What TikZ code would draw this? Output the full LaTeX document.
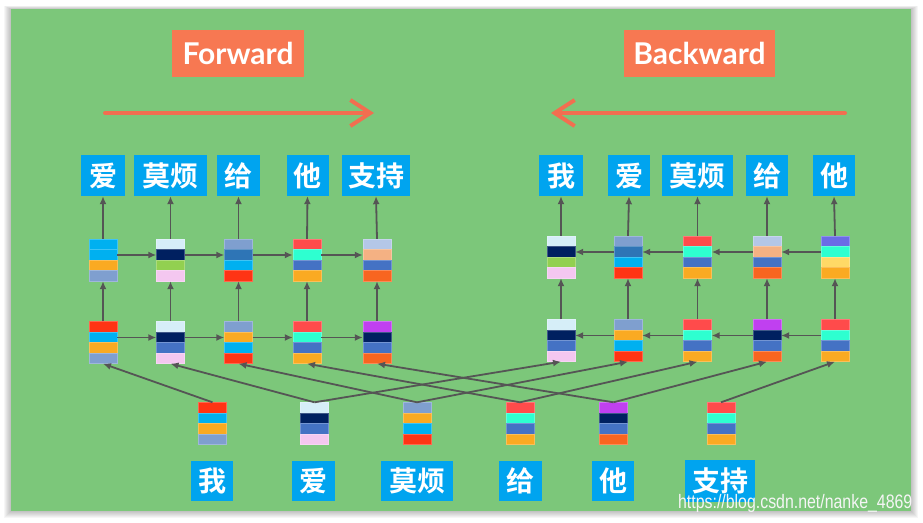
\documentclass[tikz,border=0pt]{standalone}
\usepackage{fontspec}
\setmainfont{Lato}
\newfontfamily\cjk{Noto Sans CJK SC Bold}
\newfontfamily\wmfont{Liberation Sans}[FakeStretch=0.815]
\usetikzlibrary{arrows.meta}

\definecolor{panel}{RGB}{124,199,122}
\definecolor{wordblue}{RGB}{0,164,239}
\definecolor{tagorange}{RGB}{247,120,82}
\definecolor{flow}{RGB}{242,110,80}
\definecolor{link}{RGB}{85,85,85}
% cell colours
\definecolor{cyan}{RGB}{0,176,240}
\definecolor{amber}{RGB}{250,170,34}
\definecolor{steel}{RGB}{127,159,207}
\definecolor{ice}{RGB}{214,238,248}
\definecolor{navy}{RGB}{0,32,96}
\definecolor{lime}{RGB}{146,208,80}
\definecolor{pink}{RGB}{244,199,240}
\definecolor{ocean}{RGB}{46,117,182}
\definecolor{scarlet}{RGB}{255,52,20}
\definecolor{coral}{RGB}{255,75,75}
\definecolor{aqua}{RGB}{46,255,208}
\definecolor{royal}{RGB}{68,114,196}
\definecolor{mist}{RGB}{180,199,231}
\definecolor{peach}{RGB}{244,177,131}
\definecolor{ember}{RGB}{248,101,32}
\definecolor{violet}{RGB}{192,64,240}
\definecolor{periw}{RGB}{107,107,230}
\definecolor{butter}{RGB}{255,217,102}

% a hidden-state vector: four stacked coloured cells, named #1, centred at (#2,#3)
\newcommand\cellstack[7]{%
  \node[stackbox] (#1) at (#2,#3) {};
  \foreach \col [count=\k from 0] in {#4,#5,#6,#7}{%
    \fill[\col, draw=\col!75!white, line width=0.5pt]
      (#2-14,#3-21+10.5*\k) rectangle ++(28,10.5);}%
}

\begin{document}
\begin{tikzpicture}[x=1pt,y=-1pt,
  stackbox/.style={minimum width=28pt, minimum height=42pt, inner sep=0pt, draw=none},
  word/.style={fill=wordblue, text=white, inner sep=0pt, minimum height=41pt,
    font=\cjk\fontsize{28}{28}\selectfont},
  tag/.style={fill=tagorange, text=white, inner sep=0pt, minimum height=47pt,
    font=\fontsize{30}{30}\selectfont\bfseries},
  arr/.style={draw=link, line width=1.8pt, -{Latex[length=8pt,width=7pt]}},
  flowarrow/.style={draw=flow, line width=4pt, line cap=round,
    -{Straight Barb[length=20pt,width=26pt,line width=4pt]}}]

% page and panel
\useasboundingbox (0,0) rectangle (923,522);
\fill[white] (0,0) rectangle (923,522);
\foreach \i in {1,...,7}{\fill[black, opacity=0.035] (11-\i,9-0.5*\i) rectangle (911+\i,511+\i);}
\fill[panel] (11,9) rectangle (911,511);

% direction labels
\node[tag, minimum width=132pt] (fwdtag) at (238,53.5) {Forward};
\node[tag, minimum width=151pt] (bwdtag) at (699.5,53.5) {Backward};
\coordinate (fwdA) at (105,113);
\coordinate (fwdB) at (374,113);
\coordinate (bwdA) at (845,113);
\coordinate (bwdB) at (551,113);
\draw[flowarrow] (fwdA) -- (fwdB);
\draw[flowarrow] (bwdA) -- (bwdB);

% forward output words
\node[word, minimum width=44pt] (wf1) at (103,175.5) {爱};
\node[word, minimum width=73pt] (wf2) at (170.5,175.5) {莫烦};
\node[word, minimum width=43pt] (wf3) at (238.5,175.5) {给};
\node[word, minimum width=42pt] (wf4) at (307.5,175.5) {他};
\node[word, minimum width=68pt] (wf5) at (376,175.5) {支持};
% backward output words
\node[word, minimum width=44pt] (wb1) at (561,175.5) {我};
\node[word, minimum width=42pt] (wb2) at (629,175.5) {爱};
\node[word, minimum width=71pt] (wb3) at (697.5,175.5) {莫烦};
\node[word, minimum width=42pt] (wb4) at (767,175.5) {给};
\node[word, minimum width=42pt] (wb5) at (834,175.5) {他};
% input words
\node[word, minimum width=42pt, minimum height=40pt] (ww1) at (212,481) {我};
\node[word, minimum width=43pt, minimum height=40pt] (ww2) at (313.5,481) {爱};
\node[word, minimum width=72pt, minimum height=40pt] (ww3) at (417,481) {莫烦};
\node[word, minimum width=43pt, minimum height=40pt] (ww4) at (520,481) {给};
\node[word, minimum width=42pt, minimum height=40pt] (ww5) at (613,481) {他};
\node[word, minimum width=70pt, minimum height=42pt] (ww6) at (720,481) {支持};

% forward upper layer
\cellstack{fu1}{103}{260}{cyan}{cyan}{amber}{steel}
\cellstack{fu2}{170.5}{260}{ice}{navy}{lime}{pink}
\cellstack{fu3}{238.5}{260}{steel}{ocean}{cyan}{scarlet}
\cellstack{fu4}{307}{260}{coral}{aqua}{royal}{amber}
\cellstack{fu5}{377}{260}{mist}{peach}{royal}{ember}
% forward lower layer
\cellstack{fl1}{103}{342.5}{scarlet}{cyan}{amber}{steel}
\cellstack{fl2}{170.5}{342.5}{ice}{navy}{royal}{pink}
\cellstack{fl3}{238.5}{342.5}{steel}{amber}{cyan}{scarlet}
\cellstack{fl4}{307}{342.5}{coral}{aqua}{royal}{amber}
\cellstack{fl5}{377}{342.5}{violet}{navy}{royal}{ember}
% backward upper layer
\cellstack{bu1}{561}{257}{ice}{navy}{lime}{pink}
\cellstack{bu2}{628}{257}{steel}{ocean}{cyan}{scarlet}
\cellstack{bu3}{697.5}{257}{coral}{aqua}{royal}{amber}
\cellstack{bu4}{767}{257}{mist}{peach}{royal}{ember}
\cellstack{bu5}{835}{257}{periw}{aqua}{butter}{amber}
% backward lower layer
\cellstack{bl1}{561}{340.5}{ice}{navy}{royal}{pink}
\cellstack{bl2}{628}{340.5}{steel}{amber}{cyan}{scarlet}
\cellstack{bl3}{697.5}{340.5}{coral}{aqua}{royal}{amber}
\cellstack{bl4}{767}{340.5}{violet}{navy}{royal}{ember}
\cellstack{bl5}{835}{340.5}{coral}{aqua}{royal}{amber}
% input embeddings
\cellstack{in1}{212.5}{423.5}{scarlet}{cyan}{amber}{steel}
\cellstack{in2}{314.5}{423.5}{ice}{navy}{royal}{pink}
\cellstack{in3}{417}{423.5}{steel}{amber}{cyan}{scarlet}
\cellstack{in4}{520}{423.5}{coral}{aqua}{royal}{amber}
\cellstack{in5}{613.5}{423.5}{violet}{navy}{royal}{ember}
\cellstack{in6}{721}{423.5}{coral}{aqua}{royal}{amber}

% recurrent links
\foreach \a/\b in {1/2,2/3,3/4,4/5}{
  \draw[arr] ([yshift=5pt]fu\a.east) -- ([yshift=5pt]fu\b.west);
  \draw[arr] ([yshift=5pt]fl\a.east) -- ([yshift=5pt]fl\b.west);
  \draw[arr] ([yshift=5pt]bu\b.west) -- ([yshift=5pt]bu\a.east);
  \draw[arr] ([yshift=5pt]bl\b.west) -- ([yshift=5pt]bl\a.east);
}
% layer-to-layer and output links
\foreach \i in {1,...,5}{
  \draw[arr] (fl\i.north) -- (fu\i.south);
  \draw[arr] (fu\i.north) -- (wf\i.south);
  \draw[arr] (bl\i.north) -- (bu\i.south);
  \draw[arr] (bu\i.north) -- (wb\i.south);
}
% inputs feed both directions
\foreach \i [evaluate=\i as \j using int(\i+1)] in {1,...,5}{
  \draw[arr] (in\i.north) -- (fl\i.south);
  \draw[arr] (in\j.north) -- (bl\i.south);
}

% source note
\node[anchor=base east, inner sep=0pt, text=white!92!gray,
  font=\wmfont\fontsize{19.5}{19.5}\selectfont] (src) at (912.5,508) {https://blog.csdn.net/nanke\_4869};
\end{tikzpicture}
\end{document}
